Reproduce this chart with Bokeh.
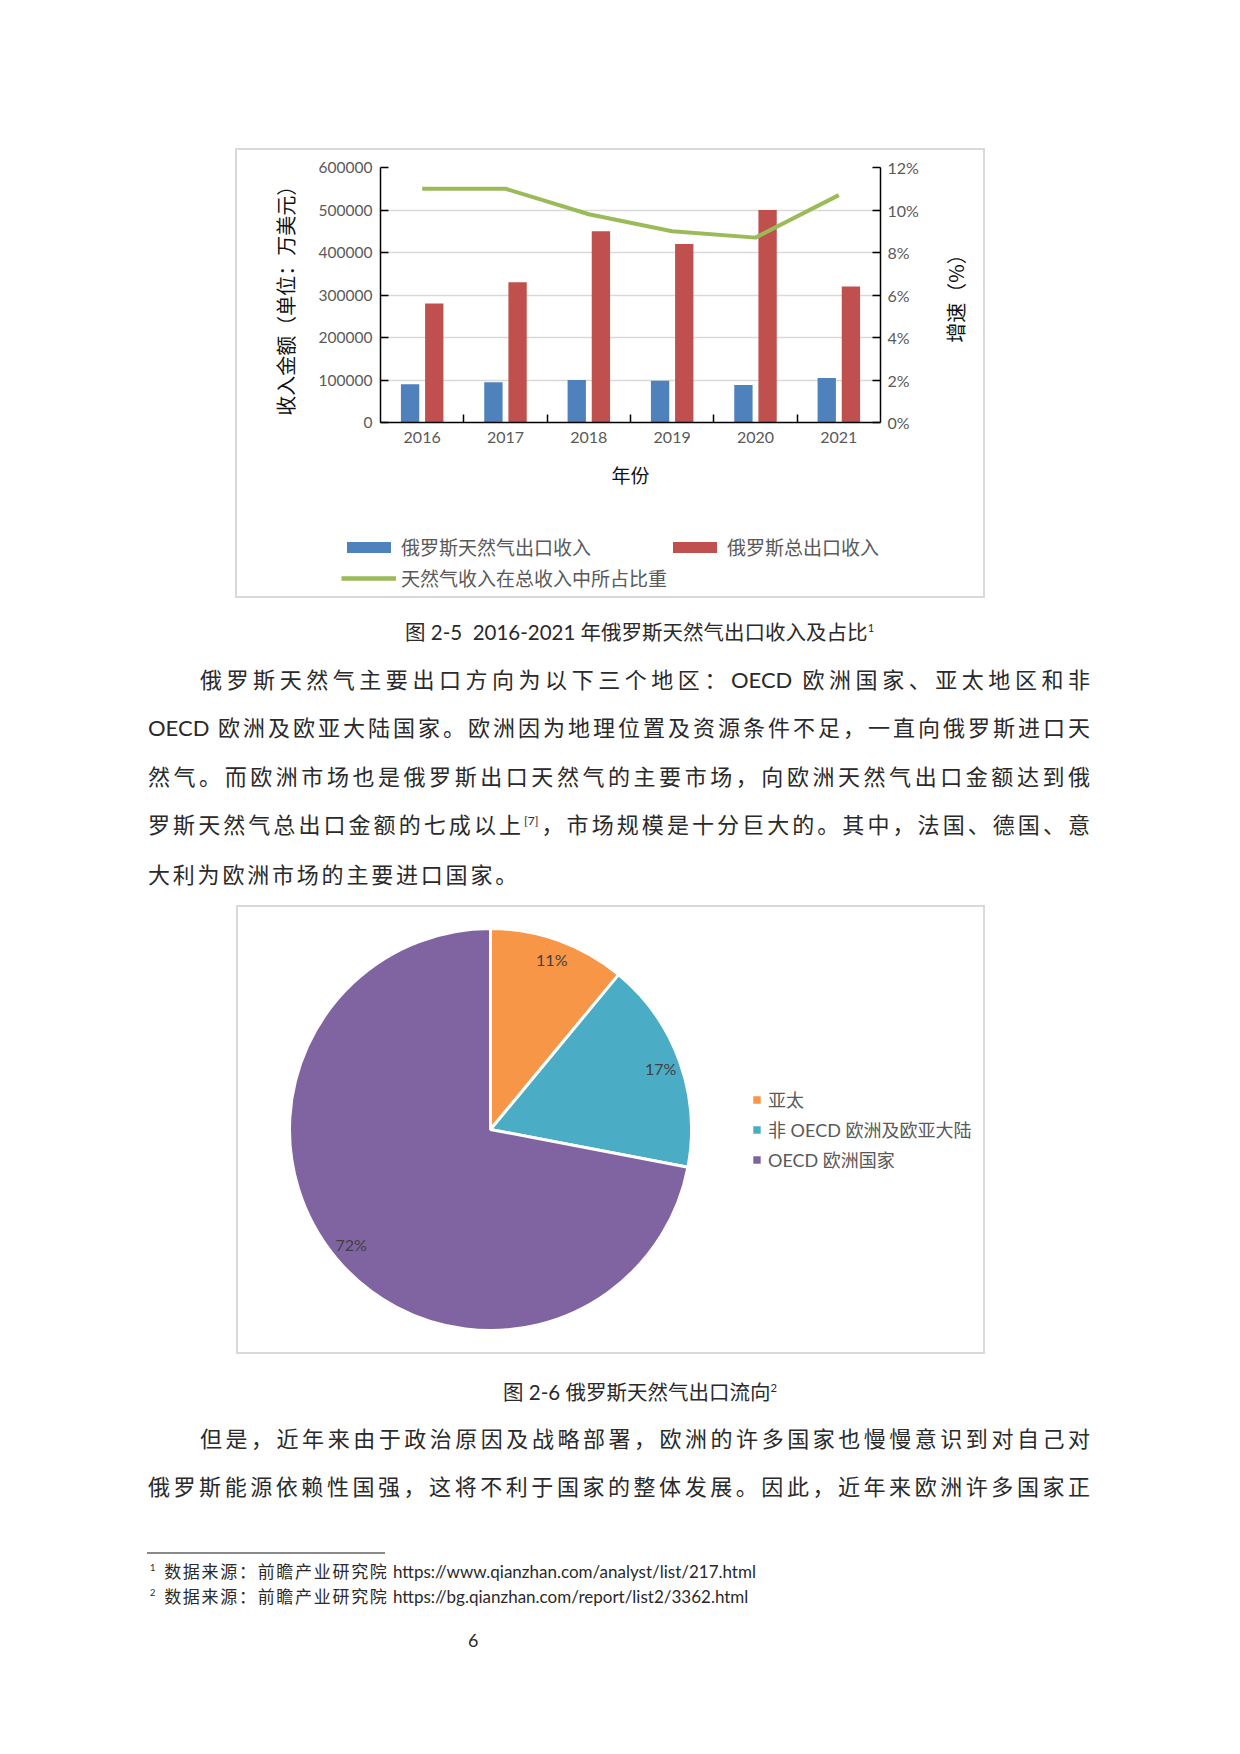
import math
import numpy as np
from bokeh.plotting import figure
from bokeh.models import (Range1d, LinearAxis, FixedTicker, NumeralTickFormatter, Legend,
                          LegendItem, ColumnDataSource, Div, Spacer)
from bokeh.layouts import column, row
from bokeh.transform import dodge
from bokeh.embed import file_html
from bokeh.resources import INLINE
from bokeh.core.properties import value

# ---------------- data ----------------
years = ["2016", "2017", "2018", "2019", "2020", "2021"]
gas_revenue = [90000, 95000, 100000, 98000, 88000, 105000]
total_revenue = [280000, 330000, 450000, 420000, 500000, 320000]
gas_share = [0.110, 0.110, 0.098, 0.090, 0.087, 0.107]
amount_ticks = [0, 100000, 200000, 300000, 400000, 500000, 600000]
pct_ticks = [0, 0.02, 0.04, 0.06, 0.08, 0.10, 0.12]
series_names = ["俄罗斯天然气出口收入", "俄罗斯总出口收入", "天然气收入在总收入中所占比重"]
series_colors = ["#4F81BD", "#C0504D", "#9BBB59"]
left_title = "收入金额（单位：万美元）"
right_title = "增速（%）"
x_title = "年份"

regions = ["亚太", "非 OECD 欧洲及欧亚大陆", "OECD 欧洲国家"]
region_share = [11, 17, 72]
region_colors = ["#F79646", "#4BACC6", "#8064A2"]

FONT = "Lato, 'Noto Sans CJK SC', sans-serif"
CJK = "'Noto Sans CJK SC', sans-serif"
GRAY = "#595959"


def bare(w, h, xr, yr):
    f = figure(width=w, height=h, x_range=xr, y_range=yr, x_axis_type=None, y_axis_type=None,
               output_backend="svg", toolbar_location=None, min_border=0)
    f.border_fill_color = None
    f.background_fill_color = None
    f.outline_line_color = None
    f.grid.visible = False
    return f


# ---------------- chart 1 ----------------
n = len(years)
pos = [i + 0.5 for i in range(n)]          # category centres on a 0..n scale
TOP_H = 357
p1 = figure(width=620, height=TOP_H, x_range=Range1d(0, n), y_range=Range1d(0, 600000),
            output_backend="svg", toolbar_location=None,
            min_border_left=70, min_border_right=50, min_border_top=19, min_border_bottom=83)
p1.border_fill_color = None
p1.background_fill_color = None
p1.outline_line_color = None
p1.xgrid.grid_line_color = None
p1.ygrid.grid_line_color = "#d9d9d9"
p1.ygrid.grid_line_width = 1.5

src = ColumnDataSource(dict(year=years, pos=pos, gas=gas_revenue, total=total_revenue, share=gas_share))
p1.vbar(x=dodge("pos", -0.145), top="gas", width=0.22, source=src,
        fill_color=series_colors[0], line_color=None)
p1.vbar(x=dodge("pos", 0.145), top="total", width=0.22, source=src,
        fill_color=series_colors[1], line_color=None)
p1.extra_y_ranges = {"pct": Range1d(0, 0.12)}
p1.line(x="pos", y="share", y_range_name="pct", source=src, line_width=4, line_color=series_colors[2])

ya = p1.yaxis[0]
ya.ticker = FixedTicker(ticks=amount_ticks)
ya.formatter = NumeralTickFormatter(format="0")
ya.major_tick_in = 8
ya.major_tick_out = 0
ya.major_tick_line_width = 1.5
ya.minor_tick_line_color = None
ya.axis_line_width = 1.5
ya.axis_line_color = "black"
ya.major_label_standoff = 8
ya.major_label_text_font = FONT
ya.major_label_text_font_size = "15.5px"
ya.major_label_text_color = GRAY

ra = LinearAxis(y_range_name="pct", ticker=FixedTicker(ticks=pct_ticks),
                formatter=NumeralTickFormatter(format="0%"))
ra.major_tick_in = 8
ra.major_tick_out = 0
ra.major_tick_line_width = 1.5
ra.minor_tick_line_color = None
ra.axis_line_width = 1.5
ra.axis_line_color = "black"
ra.major_label_standoff = 7
ra.major_label_text_font = FONT
ra.major_label_text_font_size = "16px"
ra.major_label_text_color = GRAY
p1.add_layout(ra, "right")

xa = p1.xaxis[0]
xa.ticker = FixedTicker(ticks=pos, minor_ticks=list(range(1, n)))
xa.major_label_overrides = {p: y for p, y in zip(pos, years)}
xa.axis_line_color = "black"
xa.axis_line_width = 1.5
xa.major_tick_line_color = None
xa.minor_tick_in = 8
xa.minor_tick_out = 0
xa.minor_tick_line_color = "black"
xa.minor_tick_line_width = 1.5
xa.major_label_standoff = 3
xa.major_label_text_font = FONT
xa.major_label_text_font_size = "16px"
xa.major_label_text_color = GRAY
xa.axis_label = x_title
xa.axis_label_text_font = CJK
xa.axis_label_text_font_size = "19px"
xa.axis_label_text_font_style = "normal"
xa.axis_label_text_color = "#111111"
xa.axis_label_standoff = 15

# rotated axis titles (read bottom-to-top, as in the reference)
lt = bare(75, TOP_H, Range1d(-50, 25), Range1d(-177.5, 179.5))
lt.text(x=[0], y=[0], text=[left_title], angle=math.pi / 2, text_align="center",
        text_baseline="middle", text_font=value(CJK), text_font_size="20px", text_color="#111111")
rt = bare(55, TOP_H, Range1d(-25, 30), Range1d(-180.5, 176.5))
rt.text(x=[0], y=[0], text=[right_title], angle=math.pi / 2, text_align="center",
        text_baseline="middle", text_font=value(CJK), text_font_size="20px", text_color="#111111")

# legend strip (legend-only glyphs hold no drawable data)
lg = bare(750, 93, Range1d(0, 1), Range1d(0, 1))
nan = np.array([np.nan])
g1 = lg.vbar(x=nan, top=nan, width=0.1, fill_color=series_colors[0], line_color=None)
g2 = lg.vbar(x=nan, top=nan, width=0.1, fill_color=series_colors[1], line_color=None)
g3 = lg.line(x=nan, y=nan, line_width=4.5, line_color=series_colors[2])
leg1 = Legend(items=[LegendItem(label=series_names[0], renderers=[g1]),
                     LegendItem(label=series_names[1], renderers=[g2]),
                     LegendItem(label=series_names[2], renderers=[g3])],
              orientation="horizontal", ncols=2, location=(106, 5),
              glyph_width=55, glyph_height=14, label_height=31, label_standoff=5,
              spacing=0, padding=0, margin=0, border_line_color=None,
              background_fill_alpha=0, label_text_font=CJK, label_text_font_size="19px",
              label_text_color=GRAY)
lg.add_layout(leg1)

box1 = column(row(lt, p1, rt, margin=0), lg, margin=0,
              styles={"outline": "2px solid #d9d9d9", "outline-offset": "-2px"})

# ---------------- chart 2 (pie) ----------------
total = sum(region_share)
starts, ends, mids = [], [], []
cum = 0.0
for s in region_share:
    a0 = math.pi / 2 - 2 * math.pi * cum / total
    cum += s
    a1 = math.pi / 2 - 2 * math.pi * cum / total
    starts.append(a0)
    ends.append(a1)
    mids.append((a0 + a1) / 2)
lab_r = 0.9
src2 = ColumnDataSource(dict(region=regions, share=region_share, start=starts, end=ends,
                             color=region_colors,
                             lx=[lab_r * math.cos(m) for m in mids],
                             ly=[lab_r * math.sin(m) for m in mids],
                             label=[f"{s}%" for s in region_share]))

px_per_unit = 201.0
cx_px, cy_px_top = 254.0, 224.0
p2 = bare(749, 449,
          Range1d(-cx_px / px_per_unit, (749 - cx_px) / px_per_unit),
          Range1d(-(449 - cy_px_top) / px_per_unit, cy_px_top / px_per_unit))
p2.styles = {"outline": "2px solid #d9d9d9", "outline-offset": "-2px"}

r_w = p2.wedge(x=0, y=0, radius=1, start_angle="start", end_angle="end", direction="clock",
               fill_color="color", line_color="white", line_width=3, source=src2)
p2.text(x="lx", y="ly", text="label", source=src2, text_align="center", text_baseline="middle",
        text_font=value(FONT), text_font_size="16px", text_color="#404040")

leg2 = Legend(items=[LegendItem(label=regions[i], renderers=[r_w], index=i) for i in range(len(regions))],
              location=(514, 180), glyph_width=13, glyph_height=13, label_height=30,
              label_standoff=5, spacing=0, padding=0, margin=0, border_line_color=None,
              background_fill_alpha=0, label_text_font=FONT, label_text_font_size="18px",
              label_text_color=GRAY)
p2.add_layout(leg2)

# ---------------- page text ----------------
BODY = "Lato,'Noto Sans CJK SC',sans-serif"
INK = "#2a2a2a"


def tdiv(html, height=30, size=22, pad=0, justify=False, letter=0, width=942, color=INK):
    style = (f"width:{width}px;height:{height}px;line-height:{height}px;font-family:{BODY};"
             f"font-size:{size}px;color:{color};padding-left:{pad}px;box-sizing:border-box;"
             f"letter-spacing:{letter}px;white-space:nowrap;")
    if justify:
        style += "text-align:justify;text-align-last:justify;"
    else:
        style += "text-align:left;"
    return Div(text=f'<div style="{style}">{html}</div>', width=width, height=height, margin=0)


def sp(h):
    return Spacer(width=10, height=h, margin=0)


def indent(w, item):
    return row(Spacer(width=w, height=1, margin=0), item, margin=0)


SUP = '<sup style="font-size:0.55em;line-height:0;">'

cap1 = tdiv(f"图 2-5&nbsp;&nbsp;2016-2021 年俄罗斯天然气出口收入及占比{SUP}1</sup>",
            size=20.5, pad=405, width=1224)
para1 = [
    ("俄罗斯天然气主要出口方向为以下三个地区：OECD 欧洲国家、亚太地区和非", 52, True),
    ("OECD 欧洲及欧亚大陆国家。欧洲因为地理位置及资源条件不足，一直向俄罗斯进口天", 0, True),
    ("然气。而欧洲市场也是俄罗斯出口天然气的主要市场，向欧洲天然气出口金额达到俄", 0, True),
    (f"罗斯天然气总出口金额的七成以上{SUP}[7]</sup>，市场规模是十分巨大的。其中，法国、德国、意", 0, True),
    ("大利为欧洲市场的主要进口国家。", 0, False),
]
cap2 = tdiv(f"图 2-6 俄罗斯天然气出口流向{SUP}2</sup>", size=20.5, pad=503, width=1224)
para2 = [
    ("但是，近年来由于政治原因及战略部署，欧洲的许多国家也慢慢意识到对自己对", 52, True),
    ("俄罗斯能源依赖性国强，这将不利于国家的整体发展。因此，近年来欧洲许多国家正", 0, True),
]


def pline(t):
    txt, pad, just = t
    return indent(148, tdiv(txt, pad=pad, justify=just, letter=0 if just else 2.8))


rule = indent(147, Div(text="", width=238, height=2, margin=0, styles={"background-color": "#8a8a8a"}))
CJKSP = '<span style="letter-spacing:1.7px;">'
fn1 = tdiv(f'{SUP}1</sup>&nbsp;&nbsp;{CJKSP}数据来源：前瞻产业研究院</span> https://www.qianzhan.com/analyst/list/217.html',
           height=22, size=17, pad=150, width=1224)
fn2 = tdiv(f'{SUP}2</sup>&nbsp;&nbsp;{CJKSP}数据来源：前瞻产业研究院</span> https://bg.qianzhan.com/report/list2/3362.html',
           height=22, size=17, pad=150, width=1224)
pnum = tdiv("6", height=22, size=18, pad=468, width=1224)

page = column(
    sp(148),
    indent(235, box1),
    sp(19), cap1,
    sp(18), pline(para1[0]),
    sp(18), pline(para1[1]),
    sp(19), pline(para1[2]),
    sp(18), pline(para1[3]),
    sp(20), pline(para1[4]),
    sp(15), indent(236, p2),
    sp(23), cap2,
    sp(17), pline(para2[0]),
    sp(18), pline(para2[1]),
    sp(50), rule,
    sp(7), fn1,
    sp(3), fn2,
    sp(21), pnum,
    margin=0,
)

open("out.html", "w").write(file_html(page, INLINE))
